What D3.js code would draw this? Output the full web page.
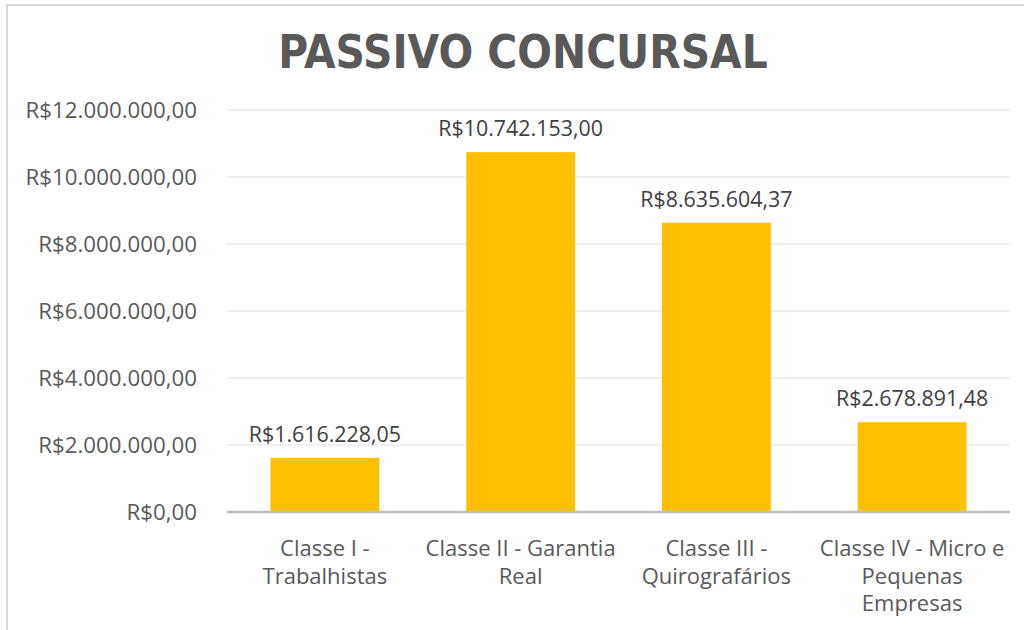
<!DOCTYPE html>
<html>
<head>
<meta charset="utf-8">
<script src="https://cdn.jsdelivr.net/npm/d3@7"></script>
<style>
  body { margin: 0; background: #fff; }
  svg { display: block; }
</style>
</head>
<body>
<div id="chart"></div>
<script>
// values
const categories = [
  ["Classe I -", "Trabalhistas"],
  ["Classe II - Garantia", "Real"],
  ["Classe III -", "Quirografários"],
  ["Classe IV - Micro e", "Pequenas", "Empresas"]
];
const values = [1616228.05, 10742153.00, 8635604.37, 2678891.48];
const yTicks = [0, 2000000, 4000000, 6000000, 8000000, 10000000, 12000000];
const title = "PASSIVO CONCURSAL";

const width = 1024, height = 630;
const margin = { left: 227, right: 14, top: 110, bottom: 118 };

// pt-BR currency: R$10.742.153,00
const brl = d3.formatLocale({
  decimal: ",", thousands: ".", grouping: [3], currency: ["R$", ""]
}).format("$,.2f");

const svg = d3.select("#chart")
  .append("svg")
  .attr("width", width)
  .attr("height", height);

// chart area border (only left / top visible in the crop)
svg.append("rect")
  .attr("x", 7)
  .attr("y", 5)
  .attr("width", 1040)
  .attr("height", 650)
  .attr("fill", "none")
  .attr("stroke", "#d9d9d9")
  .attr("stroke-width", 2);

const x = d3.scaleBand()
  .domain(d3.range(categories.length))
  .range([margin.left, width - margin.right])
  .paddingInner(0.8 / 1.8)
  .paddingOuter(0.4 / 1.8);

const y = d3.scaleLinear()
  .domain([0, 12000000])
  .range([height - margin.bottom, margin.top]);

// gridlines
svg.append("g")
  .selectAll("line")
  .data(yTicks.slice(1))
  .join("line")
  .attr("x1", margin.left)
  .attr("x2", width - margin.right)
  .attr("y1", d => y(d))
  .attr("y2", d => y(d))
  .attr("stroke", "#ebebeb")
  .attr("stroke-width", 1.5);

// y axis labels
const yAxis = svg.append("g")
  .attr("transform", `translate(${margin.left - 30},0)`)
  .call(d3.axisLeft(y).tickValues(yTicks).tickFormat(brl).tickSize(0).tickPadding(0));
yAxis.select(".domain").remove();
yAxis.selectAll("text")
  .attr("fill", "#595959")
  .style("font-family", "'Open Sans', sans-serif")
  .style("font-size", "22.3px");

// bars
svg.append("g")
  .selectAll("rect")
  .data(values)
  .join("rect")
  .attr("x", (d, i) => x(i))
  .attr("width", x.bandwidth())
  .attr("y", d => y(d))
  .attr("height", d => y(0) - y(d))
  .attr("fill", "#ffc000");

// baseline
svg.append("line")
  .attr("x1", margin.left)
  .attr("x2", width - margin.right)
  .attr("y1", y(0))
  .attr("y2", y(0))
  .attr("stroke", "#bfbfbf")
  .attr("stroke-width", 2.5);

// data labels
svg.append("g")
  .attr("text-anchor", "middle")
  .style("font-family", "'Open Sans', sans-serif")
  .style("font-size", "21.4px")
  .attr("fill", "#404040")
  .selectAll("text")
  .data(values)
  .join("text")
  .attr("x", (d, i) => x(i) + x.bandwidth() / 2)
  .attr("y", d => y(d) - 16)
  .text(d => brl(d));

// category labels
svg.append("g")
  .attr("text-anchor", "middle")
  .style("font-family", "'Open Sans', sans-serif")
  .style("font-size", "22px")
  .attr("fill", "#595959")
  .selectAll("text")
  .data(categories)
  .join("text")
  .attr("transform", (d, i) => `translate(${x(i) + x.bandwidth() / 2},${y(0) + 44})`)
  .selectAll("tspan")
  .data(d => d)
  .join("tspan")
  .attr("x", 0)
  .attr("y", (d, i) => i * 27.5)
  .text(d => d);

// title
svg.append("text")
  .attr("x", 523)
  .attr("y", 68)
  .attr("text-anchor", "middle")
  .attr("fill", "#595959")
  .style("font-family", "'DejaVu Sans Condensed', 'DejaVu Sans', sans-serif")
  .style("font-weight", "bold")
  .style("font-size", "45.4px")
  .text(title);
</script>
</body>
</html>
